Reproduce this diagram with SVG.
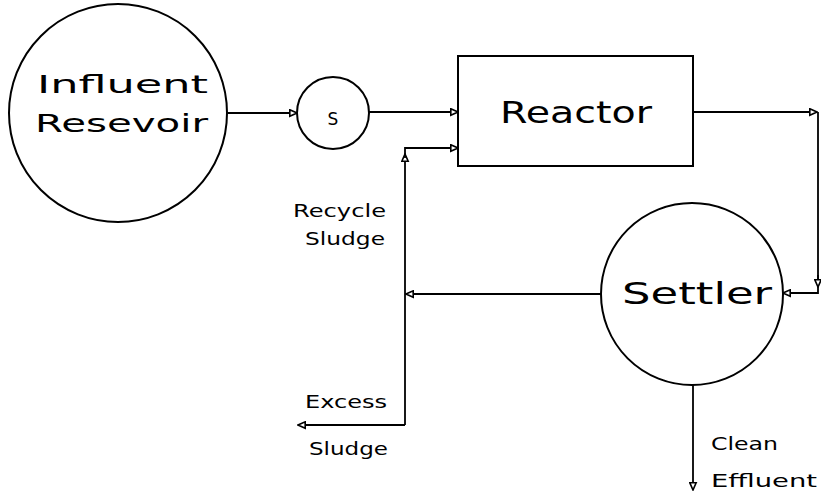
<svg xmlns="http://www.w3.org/2000/svg" width="821" height="499" viewBox="0 0 821 499">
<style>
.n{fill:none;stroke:#000;stroke-width:2}
.c{fill:none;stroke:#000;stroke-width:1.8}
text{font-family:"DejaVu Sans","Liberation Sans",sans-serif;fill:#000}
.big{font-size:24px}
.lg{font-size:30px}
.sm{font-size:17px}
</style>
<defs>
<marker id="ah" viewBox="0 0 10 10" refX="9" refY="5" markerWidth="9" markerHeight="9" orient="auto" markerUnits="userSpaceOnUse">
<path d="M1,1.5 L9,5 L1,8.5 Z" fill="#fff" stroke="#000" stroke-width="1.8"/>
</marker>
</defs>
<rect width="821" height="499" fill="#fff"/>
<g id="connectors">
<line class="c" x1="228" y1="113" x2="297" y2="113" marker-end="url(#ah)"/>
<line class="c" x1="369" y1="112" x2="458" y2="112" marker-end="url(#ah)"/>
<path class="c" d="M693,112 L817,112" marker-end="url(#ah)"/>
<path class="c" d="M818,112 L818,293 L783,293" marker-end="url(#ah)"/>
<path class="c" d="M818,275 L818,287" marker-end="url(#ah)"/>
<line class="c" x1="602" y1="294" x2="406" y2="294" marker-end="url(#ah)"/>
<path class="c" d="M405,425 L405,154" marker-end="url(#ah)"/>
<path class="c" d="M405,158 L405,148 L458,148" marker-end="url(#ah)"/>
<path class="c" d="M405,425 L298,425" marker-end="url(#ah)"/>
<line class="c" x1="693" y1="385" x2="693" y2="490" marker-end="url(#ah)"/>
</g>
<g id="influent">
<circle class="n" cx="118" cy="113" r="109"/>
<text class="big" x="37" y="93" textLength="171" lengthAdjust="spacingAndGlyphs">Influent</text>
<text class="big" x="35" y="132" textLength="173" lengthAdjust="spacingAndGlyphs">Resevoir</text>
</g>
<g id="s">
<circle class="n" cx="333" cy="113" r="36"/>
<text class="sm" x="333" y="125" text-anchor="middle">S</text>
</g>
<g id="reactor">
<rect class="n" x="458" y="56" width="235" height="110"/>
<text class="lg" x="500" y="123" textLength="152" lengthAdjust="spacingAndGlyphs">Reactor</text>
</g>
<g id="settler">
<circle class="n" cx="692" cy="294" r="91"/>
<text class="lg" x="622" y="304" textLength="150" lengthAdjust="spacingAndGlyphs">Settler</text>
</g>
<g id="labels">
<text class="sm" x="293" y="217" textLength="93" lengthAdjust="spacingAndGlyphs">Recycle</text>
<text class="sm" x="305" y="245" textLength="80" lengthAdjust="spacingAndGlyphs">Sludge</text>
<text class="sm" x="305" y="408" textLength="82" lengthAdjust="spacingAndGlyphs">Excess</text>
<text class="sm" x="309" y="455" textLength="79" lengthAdjust="spacingAndGlyphs">Sludge</text>
<text class="sm" x="711" y="450" textLength="67" lengthAdjust="spacingAndGlyphs">Clean</text>
<text class="sm" x="711" y="487" textLength="106" lengthAdjust="spacingAndGlyphs">Effluent</text>
</g>
</svg>
